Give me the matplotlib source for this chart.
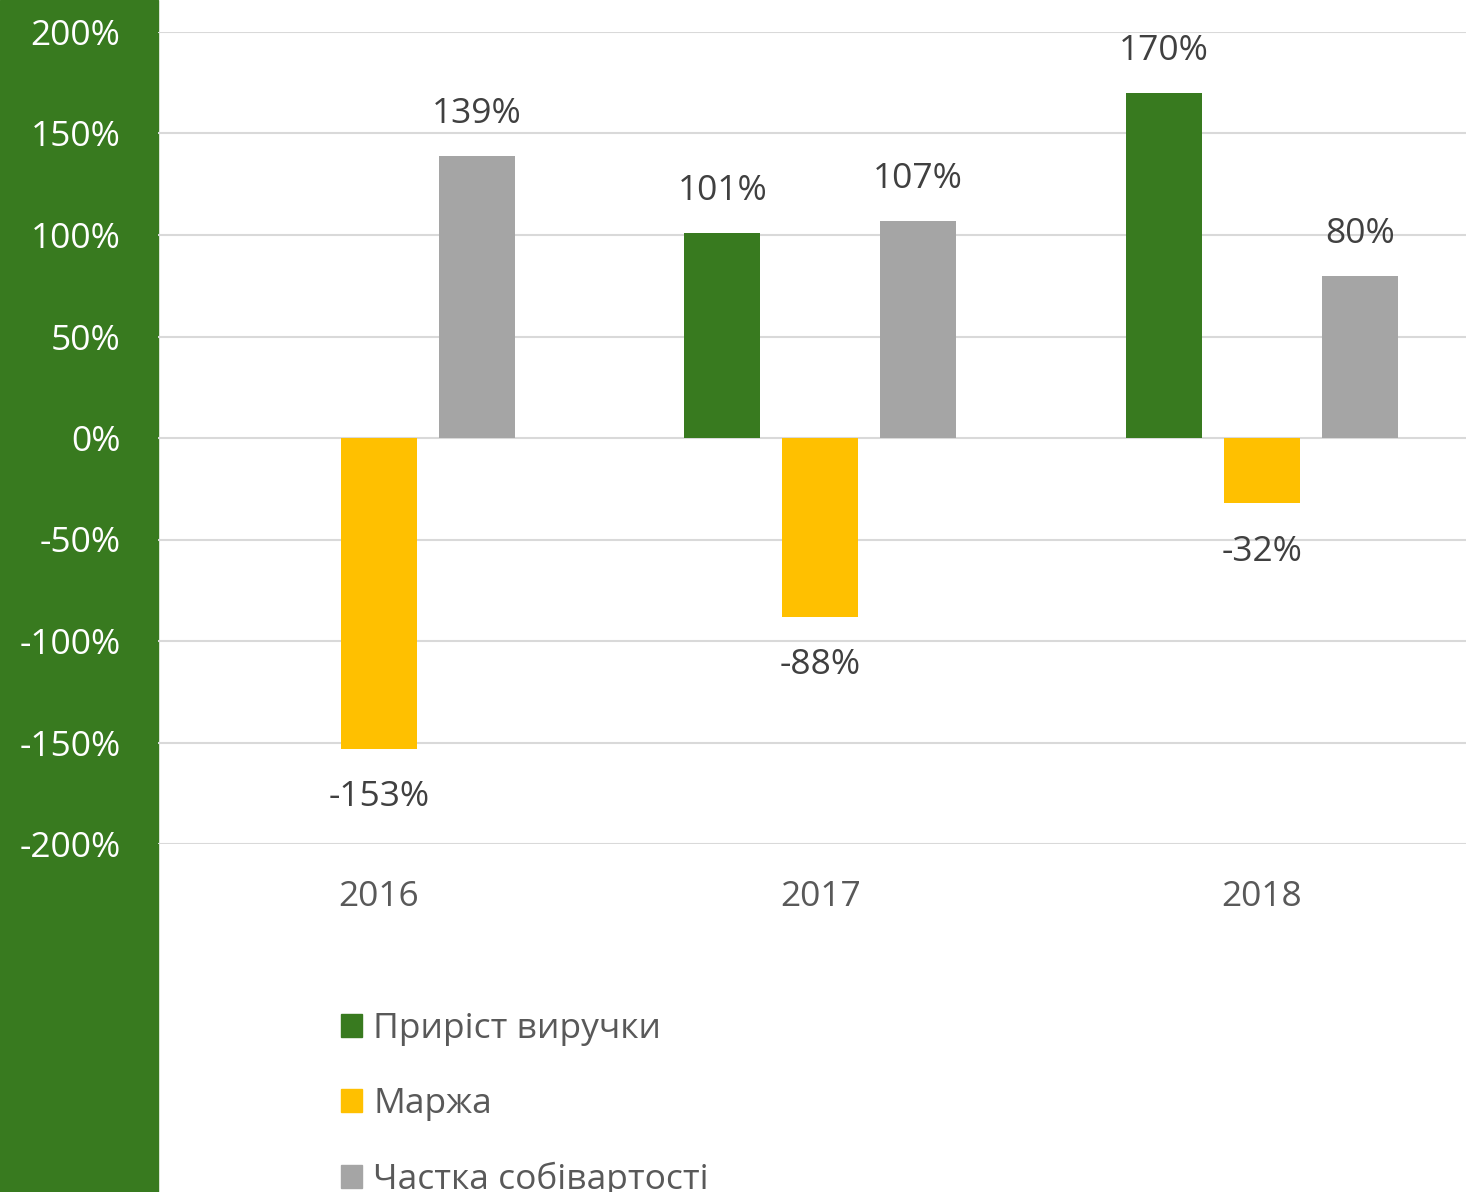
import numpy as np
import matplotlib.pyplot as plt
from matplotlib.patches import Rectangle, Patch

plt.rcParams['font.family'] = ['Open Sans', 'DejaVu Sans']

years = ['2016', '2017', '2018']
series_names = ['Приріст виручки', 'Маржа', 'Частка собівартості']
revenue_growth = [np.nan, 101, 170]
margin = [-153, -88, -32]
cost_share = [139, 107, 80]
colors = ['#387A1F', '#FFC000', '#A5A5A5']

W, H = 1466, 1192
fig = plt.figure(figsize=(W / 100, H / 100), dpi=100)
# green strip behind the y tick labels
fig.patches.append(Rectangle((0, 0), 158 / W, 1, transform=fig.transFigure,
                             color='#387A1F', zorder=-5))

ax = fig.add_axes([158 / W, (H - 844) / H, (W - 158) / W, 812 / H])
ax.set_facecolor('none')

x = np.arange(len(years))
width = 0.172
step = 0.222
all_series = [revenue_growth, margin, cost_share]
for i, (vals, name, col) in enumerate(zip(all_series, series_names, colors)):
    pos = x + (i - 1) * step
    ax.bar(pos, vals, width, color=col, label=name, zorder=3)
    for p, v in zip(pos, vals):
        if np.isnan(v):
            continue
        if v > 0:
            ax.annotate(f'{v:.0f}%', (p, v), xytext=(0, 30), textcoords='offset points',
                        ha='center', va='center', fontsize=25.5, color='#404040')
        else:
            ax.annotate(f'{v:.0f}%', (p, v), xytext=(0, -35), textcoords='offset points',
                        ha='center', va='center', fontsize=25.5, color='#404040')

ax.set_ylim(-200, 200)
ax.set_xlim(-0.5, -0.5 + (W - 158) / 441.5)
ax.set_yticks(np.arange(-200, 201, 50))
ax.set_yticklabels([f'{t}%' for t in range(-200, 201, 50)])
ax.set_xticks(x)
ax.set_xticklabels(years)
ax.tick_params(axis='y', length=0, pad=27, labelsize=25.5, labelcolor='white')
ax.tick_params(axis='x', length=0, pad=26, labelsize=25.5, labelcolor='#595959')
ax.grid(axis='y', color='#D9D9D9', linewidth=1.5, zorder=0)
for s in ax.spines.values():
    s.set_visible(False)

handles = [Patch(color=c) for c in colors]
fig.legend(handles, series_names, loc='upper left',
           bbox_to_anchor=(327 / W, 1 - 998 / H), frameon=False,
           fontsize=25.5, labelcolor='#595959', handlelength=0.6, handleheight=0.6,
           handletextpad=0.3, labelspacing=1.15, borderaxespad=0)

fig.savefig('out.png', dpi=100)
